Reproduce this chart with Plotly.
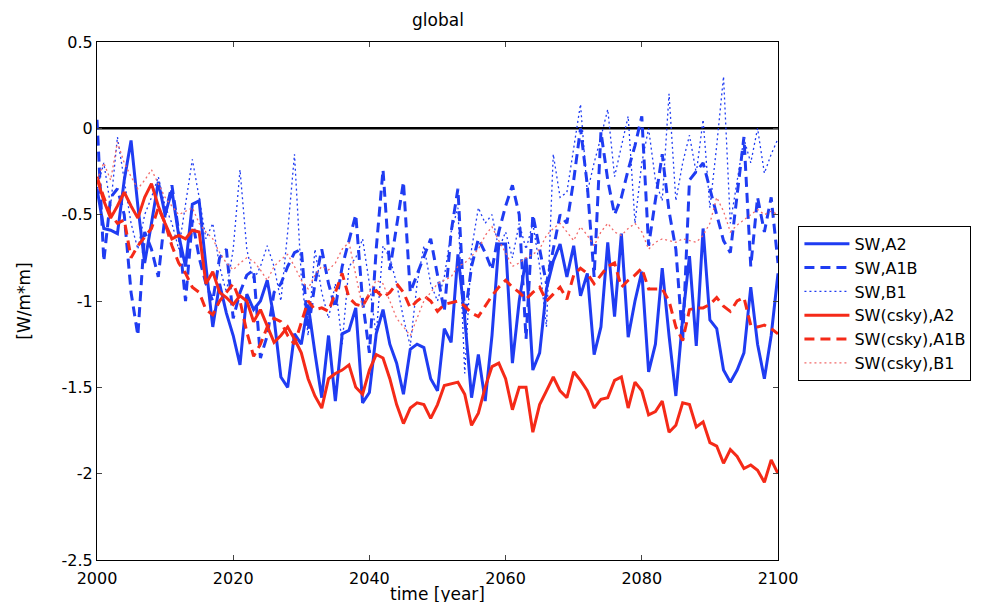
import plotly.graph_objects as go

years = list(range(2000, 2101))

sw_a2 = [-0.35, -0.58, -0.59, -0.61, -0.30, -0.07, -0.45, -0.78, -0.55, -0.31,
         -0.50, -0.36, -0.62, -0.80, -0.44, -0.42, -0.80, -1.15, -0.90, -1.07,
         -1.20, -1.37, -0.96, -1.05, -1.00, -0.88, -1.10, -1.44, -1.50, -1.19,
         -1.25, -1.02, -1.30, -1.56, -1.20, -1.58, -1.19, -1.17, -1.04, -1.59,
         -1.53, -1.19, -1.05, -1.25, -1.36, -1.54, -1.28, -1.25, -1.27, -1.45,
         -1.52, -1.16, -1.24, -0.73, -1.10, -1.56, -1.31, -1.58, -1.20, -0.67,
         -0.67, -1.36, -1.00, -0.75, -1.40, -1.30, -0.93, -0.77, -0.67, -0.86,
         -0.68, -0.97, -0.84, -1.31, -1.15, -0.66, -1.09, -0.61, -1.21, -1.00,
         -0.83, -1.41, -1.25, -0.81, -1.20, -1.55, -1.10, -0.74, -1.26, -0.58,
         -1.11, -1.16, -1.40, -1.47, -1.40, -1.30, -0.92, -1.25, -1.45, -1.20,
         -0.84]

sw_a1b = [0.05, -0.77, -0.40, -0.35, -0.50, -0.95, -1.20, -0.60, -0.70, -0.86,
          -0.50, -0.33, -0.60, -1.00, -0.53, -0.75, -0.90, -1.00, -0.75, -0.70,
          -1.10, -0.95, -0.85, -0.82, -1.33, -1.20, -0.95, -0.90, -0.80, -0.72,
          -0.70, -1.17, -0.90, -0.70, -0.90, -1.04, -0.80, -0.65, -0.50, -1.00,
          -1.30, -0.70, -0.24, -0.82, -0.55, -0.31, -0.95, -0.85, -0.75, -0.64,
          -0.85, -1.06, -0.60, -0.35, -1.10, -0.80, -0.64, -0.72, -0.82, -0.60,
          -0.45, -0.33, -0.50, -1.22, -0.50, -0.70, -0.90, -0.70, -0.50, -0.55,
          -0.30, 0.00, -0.33, -0.86, -0.02, -0.30, -0.50, -0.40, -0.24, -0.10,
          0.07, -0.68, -0.42, -0.15, -0.48, -0.70, -1.23, -0.30, -0.25, -0.20,
          -0.35, -0.50, -0.65, -0.72, -0.40, -0.05, -0.80, -0.40, -0.60, -0.40,
          -0.78]

sw_b1 = [-0.35, -0.20, -0.45, -0.05, -0.30, -0.55, -0.70, -0.50, -0.40, -0.28,
         -0.45, -0.55, -0.70, -0.45, -0.18, -0.40, -0.64, -0.55, -0.80, -0.95,
         -0.70, -0.24, -0.70, -0.88, -0.80, -0.68, -0.80, -1.00, -0.60, -0.15,
         -0.86, -1.20, -0.70, -0.95, -1.10, -0.90, -1.25, -0.80, -0.75, -0.64,
         -0.90, -1.20, -0.68, -0.75, -0.90, -1.10, -1.26, -0.90, -0.68, -0.90,
         -1.00, -0.86, -0.60, -0.46, -1.42, -0.70, -0.46, -0.55, -0.50, -0.70,
         -0.60, -0.75, -0.55, -0.70, -0.55, -0.80, -1.15, -0.15, -0.40, -0.37,
         -0.10, 0.14, -0.37, -0.20, -0.05, 0.11, -0.28, -0.10, 0.07, -0.55,
         -0.20, 0.00, -0.30, -0.42, 0.20, -0.42, -0.20, -0.04, -0.26, 0.05,
         -0.46, -0.10, 0.30, -0.55, -0.30, -0.06, -0.20, 0.00, -0.26, -0.15,
         -0.06]

csky_a2 = [-0.29, -0.42, -0.52, -0.45, -0.37, -0.45, -0.52, -0.40, -0.32, -0.45,
           -0.55, -0.64, -0.62, -0.64, -0.59, -0.60, -0.90, -0.83, -0.95, -0.98,
           -1.02, -0.97, -1.00, -1.12, -1.05, -1.15, -1.24, -1.20, -1.15, -1.22,
           -1.30, -1.45, -1.55, -1.62, -1.45, -1.42, -1.40, -1.37, -1.50, -1.54,
           -1.40, -1.31, -1.33, -1.45, -1.60, -1.71, -1.62, -1.59, -1.60, -1.68,
           -1.60, -1.49, -1.48, -1.47, -1.54, -1.72, -1.65, -1.50, -1.38, -1.36,
           -1.45, -1.63, -1.50, -1.50, -1.76, -1.60, -1.52, -1.44, -1.52, -1.56,
           -1.41, -1.46, -1.52, -1.62, -1.57, -1.56, -1.46, -1.44, -1.62, -1.47,
           -1.52, -1.66, -1.64, -1.58, -1.76, -1.72, -1.59, -1.60, -1.73, -1.70,
           -1.82, -1.84, -1.94, -1.86, -1.90, -1.97, -1.95, -1.98, -2.05, -1.92,
           -2.00]

csky_a1b = [-0.28, -0.40, -0.50, -0.55, -0.53, -0.75, -0.68, -0.63, -0.58, -0.46,
            -0.55, -0.68, -0.78, -0.84, -0.92, -0.95, -1.05, -1.08, -1.00, -0.95,
            -0.90, -1.00, -1.18, -1.32, -1.25, -1.15, -1.10, -1.12, -1.20, -1.25,
            -1.12, -1.00, -1.05, -1.04, -1.06, -0.95, -0.84, -0.98, -1.02, -1.03,
            -0.96, -0.94, -0.98, -0.95, -0.90, -0.95, -1.04, -1.00, -0.97, -1.00,
            -1.06, -1.02, -1.01, -1.00, -1.03, -1.07, -1.09, -1.03, -0.97, -0.92,
            -0.88, -0.92, -0.95, -0.99, -0.95, -0.92, -1.00, -0.96, -0.92, -0.99,
            -0.85, -0.81, -0.84, -0.90, -0.85, -0.80, -0.78, -0.92, -0.88, -0.85,
            -0.81, -0.93, -0.93, -0.93, -1.00, -1.15, -1.23, -1.05, -1.04, -1.04,
            -1.02, -0.98, -1.03, -1.06, -1.00, -0.98, -1.14, -1.15, -1.14, -1.16,
            -1.19]

csky_b1 = [-0.30, -0.20, -0.30, -0.08, -0.20, -0.28, -0.35, -0.30, -0.24, -0.32,
           -0.40, -0.45, -0.50, -0.48, -0.46, -0.55, -0.60, -0.64, -0.72, -0.78,
           -0.82, -0.78, -0.75, -0.77, -0.82, -0.88, -0.80, -0.76, -0.73, -0.80,
           -0.88, -0.93, -0.85, -0.80, -0.82, -0.78, -0.70, -0.66, -0.85, -1.04,
           -0.95, -0.88, -0.90, -1.00, -1.10, -1.15, -1.20, -1.10, -1.00, -0.95,
           -0.90, -0.88, -0.86, -0.80, -0.78, -0.74, -0.70, -0.62, -0.57, -0.65,
           -0.72, -0.80, -0.78, -0.75, -0.73, -0.70, -0.62, -0.58, -0.55, -0.60,
           -0.65, -0.57, -0.62, -0.68, -0.60, -0.55, -0.60, -0.62, -0.58, -0.55,
           -0.60, -0.70, -0.66, -0.64, -0.65, -0.66, -0.64, -0.65, -0.66, -0.62,
           -0.55, -0.40, -0.48, -0.60, -0.56, -0.53, -0.50, -0.47, -0.50, -0.48,
           -0.50]

names = ["SW,A2", "SW,A1B", "SW,B1", "SW(csky),A2", "SW(csky),A1B", "SW(csky),B1"]
x_ticks = [2000, 2020, 2040, 2060, 2080, 2100]
y_ticks = [0.5, 0, -0.5, -1, -1.5, -2, -2.5]
y_tick_text = ["0.5", "0", "-0.5", "-1", "-1.5", "-2", "-2.5"]

BLUE = "#1f3cf2"
RED = "#f52a18"
RED_LIGHT = "#f26a6a"

styles = [
    dict(color=BLUE, width=3, dash="solid"),
    dict(color=BLUE, width=3, dash="10px,6px"),
    dict(color=BLUE, width=1.3, dash="2px,3px"),
    dict(color=RED, width=3, dash="solid"),
    dict(color=RED, width=3, dash="10px,6px"),
    dict(color=RED_LIGHT, width=1.3, dash="2px,3px"),
]
series = [sw_a2, sw_a1b, sw_b1, csky_a2, csky_a1b, csky_b1]

fig = go.Figure()
# zero reference line
fig.add_trace(go.Scatter(x=[years[0], years[-1]], y=[0, 0], mode="lines",
                         line=dict(color="black", width=2.5), showlegend=False,
                         hoverinfo="skip"))
for i in range(6):
    fig.add_trace(go.Scatter(x=years, y=series[i], mode="lines", name=names[i],
                             line=styles[i], legendrank=i + 1))

FONT = "DejaVu Sans, Verdana, sans-serif"
tick_font = dict(family=FONT, size=16, color="black")
title_font = dict(family=FONT, size=17, color="black")
# page body has an 8px margin, so the figure is offset by (8, 8) on screen
fig.update_layout(
    width=1008, height=602,
    margin=dict(l=89, r=238, t=34, b=50, autoexpand=False),
    paper_bgcolor="white", plot_bgcolor="white",
    title=dict(text="global", x=430 / 1008, xanchor="center", y=1 - 12 / 602, yanchor="middle",
               font=dict(family=FONT, size=17, color="black"), automargin=False),
    showlegend=True,
    legend=dict(x=1.03, y=0.645, xanchor="left", yanchor="top",
                bordercolor="black", borderwidth=1, bgcolor="white",
                font=dict(family=FONT, size=16, color="black"),
                tracegroupgap=0, itemwidth=45),
)
fig.update_xaxes(range=[2000, 2100], tickvals=x_ticks, ticks="inside", ticklen=5,
                 showline=True, linecolor="black", linewidth=1, mirror="ticks",
                 showgrid=False, zeroline=False, tickfont=tick_font, automargin=False,
                 ticklabelstandoff=4,
                 title=dict(text="time [year]", font=title_font, standoff=0))
fig.update_yaxes(range=[-2.5, 0.5], tickvals=y_ticks, ticktext=y_tick_text,
                 ticks="inside", ticklen=5,
                 showline=True, linecolor="black", linewidth=1, mirror="ticks",
                 showgrid=False, zeroline=False, tickfont=tick_font, automargin=False,
                 title=dict(text="[W/m*m]", font=title_font, standoff=26))

fig.write_html("out.html")
